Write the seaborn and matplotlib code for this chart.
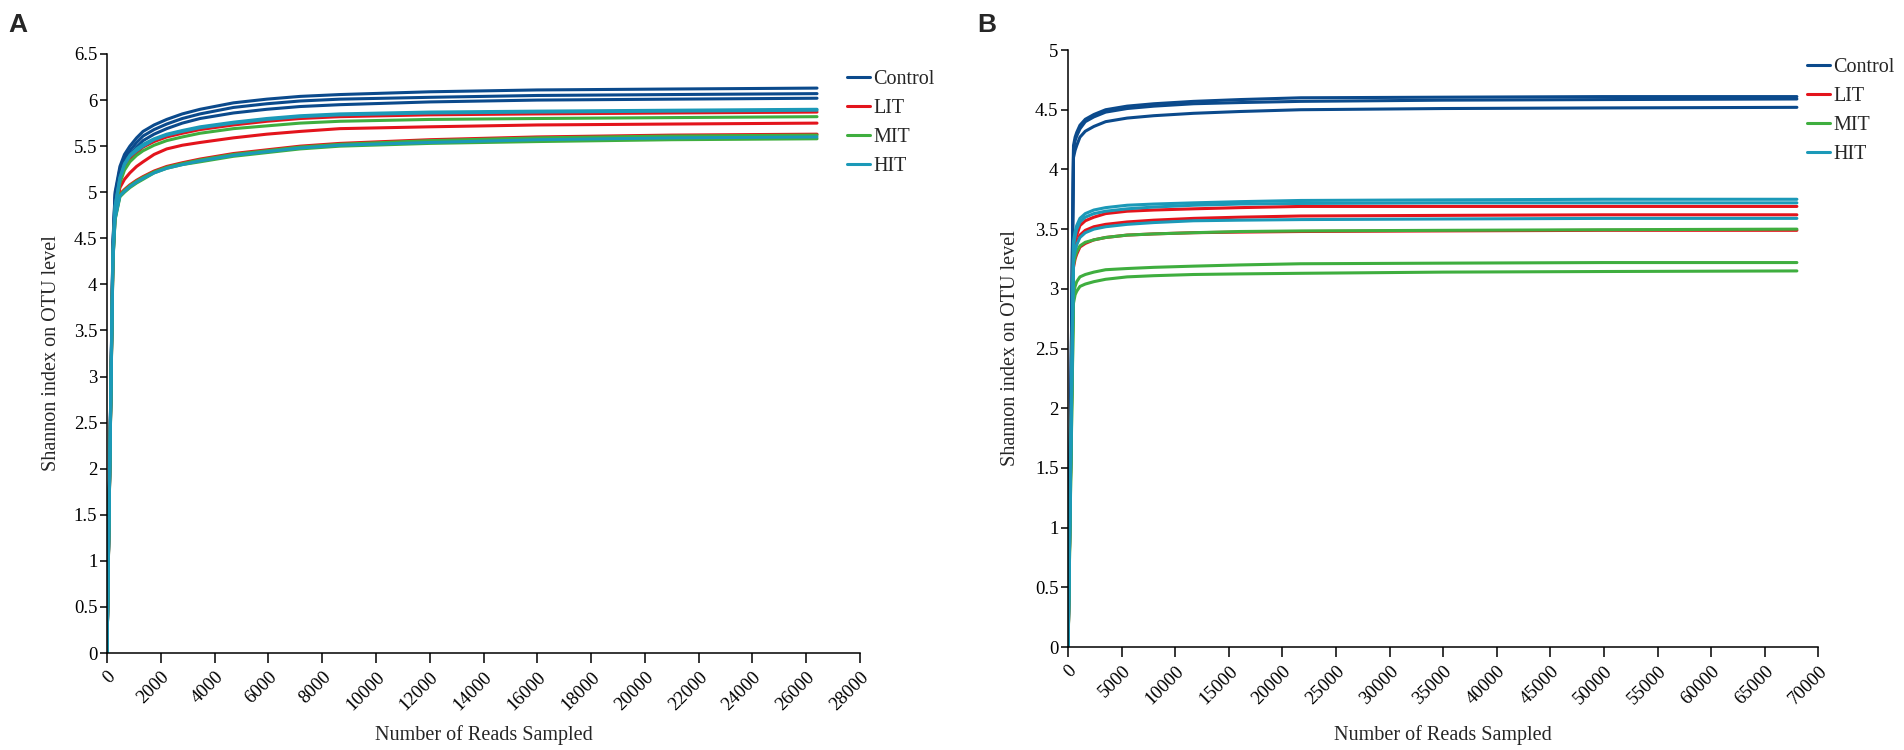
import matplotlib
matplotlib.use("Agg")
import matplotlib.pyplot as plt
import numpy as np
import pandas as pd
import seaborn as sns
from matplotlib.lines import Line2D
from matplotlib.ticker import FormatStrFormatter, MultipleLocator

# ---------------- data ----------------
groups = ["Control", "LIT", "MIT", "HIT"]
palette = {"Control": "#0b4a8c", "LIT": "#e3141c", "MIT": "#3fae3f", "HIT": "#1b99b8"}

# Panel A
reads_a = [0, 220, 300, 480, 650, 850, 1100, 1340, 1750, 2220, 2800, 3460, 4700, 5940, 7180, 8660, 12000, 16000, 21000, 26400]
a_control_1 = [0, 4.45, 5.00, 5.28, 5.41, 5.50, 5.59, 5.66, 5.73, 5.79, 5.85, 5.90, 5.97, 6.01, 6.04, 6.06, 6.09, 6.11, 6.12, 6.13]
a_control_2 = [0, 4.43, 4.97, 5.25, 5.37, 5.45, 5.54, 5.61, 5.68, 5.74, 5.80, 5.85, 5.92, 5.96, 5.99, 6.01, 6.03, 6.05, 6.06, 6.07]
a_control_3 = [0, 4.41, 4.93, 5.21, 5.32, 5.40, 5.49, 5.56, 5.63, 5.69, 5.75, 5.80, 5.86, 5.90, 5.93, 5.95, 5.98, 6.00, 6.01, 6.02]
a_lit_1 = [0, 4.35, 4.83, 5.14, 5.28, 5.36, 5.43, 5.49, 5.55, 5.60, 5.64, 5.68, 5.73, 5.77, 5.80, 5.82, 5.84, 5.85, 5.86, 5.87]
a_lit_2 = [0, 4.30, 4.77, 5.05, 5.14, 5.21, 5.28, 5.33, 5.41, 5.47, 5.51, 5.54, 5.59, 5.63, 5.66, 5.69, 5.71, 5.73, 5.74, 5.75]
a_lit_3 = [0, 4.27, 4.73, 4.98, 5.03, 5.08, 5.13, 5.17, 5.23, 5.28, 5.32, 5.36, 5.42, 5.46, 5.50, 5.53, 5.57, 5.60, 5.62, 5.63]
a_mit_1 = [0, 4.33, 4.80, 5.10, 5.24, 5.33, 5.40, 5.45, 5.51, 5.56, 5.60, 5.64, 5.69, 5.72, 5.75, 5.77, 5.79, 5.80, 5.81, 5.82]
a_mit_2 = [0, 4.26, 4.72, 4.97, 5.02, 5.07, 5.12, 5.16, 5.22, 5.27, 5.31, 5.35, 5.41, 5.45, 5.49, 5.52, 5.56, 5.59, 5.61, 5.62]
a_mit_3 = [0, 4.24, 4.70, 4.95, 5.00, 5.05, 5.10, 5.14, 5.21, 5.26, 5.30, 5.33, 5.39, 5.43, 5.47, 5.50, 5.53, 5.55, 5.57, 5.58]
a_hit_1 = [0, 4.37, 4.85, 5.16, 5.31, 5.40, 5.47, 5.52, 5.58, 5.63, 5.67, 5.71, 5.76, 5.80, 5.83, 5.85, 5.87, 5.88, 5.89, 5.90]
a_hit_2 = [0, 4.36, 4.84, 5.15, 5.30, 5.39, 5.45, 5.50, 5.57, 5.62, 5.66, 5.70, 5.75, 5.79, 5.82, 5.84, 5.86, 5.87, 5.88, 5.89]
a_hit_3 = [0, 4.25, 4.71, 4.96, 5.01, 5.06, 5.11, 5.15, 5.21, 5.26, 5.30, 5.34, 5.40, 5.44, 5.48, 5.51, 5.54, 5.57, 5.59, 5.60]

# Panel B
reads_b = [0, 500, 650, 800, 1100, 1600, 2400, 3500, 5500, 8000, 11700, 16000, 21700, 35000, 50000, 68000]
b_control_1 = [0, 4.20, 4.27, 4.31, 4.37, 4.42, 4.46, 4.50, 4.53, 4.55, 4.57, 4.585, 4.60, 4.605, 4.61, 4.61]
b_control_2 = [0, 4.17, 4.24, 4.28, 4.34, 4.40, 4.44, 4.48, 4.51, 4.53, 4.55, 4.56, 4.57, 4.58, 4.585, 4.59]
b_control_3 = [0, 4.10, 4.16, 4.20, 4.27, 4.32, 4.36, 4.40, 4.43, 4.45, 4.47, 4.485, 4.50, 4.51, 4.515, 4.52]
b_lit_1 = [0, 3.32, 3.40, 3.45, 3.53, 3.57, 3.60, 3.63, 3.65, 3.66, 3.67, 3.68, 3.69, 3.69, 3.69, 3.69]
b_lit_2 = [0, 3.25, 3.33, 3.38, 3.45, 3.49, 3.52, 3.54, 3.56, 3.575, 3.59, 3.60, 3.61, 3.615, 3.62, 3.62]
b_lit_3 = [0, 3.18, 3.25, 3.29, 3.35, 3.38, 3.41, 3.43, 3.45, 3.46, 3.47, 3.475, 3.48, 3.485, 3.49, 3.49]
b_mit_1 = [0, 3.20, 3.27, 3.31, 3.36, 3.39, 3.41, 3.43, 3.45, 3.46, 3.47, 3.48, 3.485, 3.49, 3.495, 3.50]
b_mit_2 = [0, 2.95, 3.02, 3.06, 3.10, 3.12, 3.14, 3.16, 3.17, 3.18, 3.19, 3.20, 3.21, 3.215, 3.22, 3.22]
b_mit_3 = [0, 2.88, 2.95, 2.98, 3.02, 3.04, 3.06, 3.08, 3.10, 3.11, 3.12, 3.125, 3.13, 3.14, 3.145, 3.15]
b_hit_1 = [0, 3.40, 3.48, 3.53, 3.59, 3.63, 3.66, 3.68, 3.70, 3.71, 3.72, 3.73, 3.74, 3.745, 3.75, 3.75]
b_hit_2 = [0, 3.36, 3.44, 3.50, 3.56, 3.60, 3.63, 3.65, 3.67, 3.685, 3.70, 3.71, 3.715, 3.72, 3.72, 3.72]
b_hit_3 = [0, 3.25, 3.32, 3.37, 3.43, 3.47, 3.50, 3.52, 3.54, 3.555, 3.57, 3.575, 3.58, 3.585, 3.59, 3.59]

x_label = "Number of Reads Sampled"
y_label = "Shannon index on OTU level"


def long_frame(reads, samples):
    rows = []
    for grp, name, vals in samples:
        for r, v in zip(reads, vals):
            rows.append({"reads": r, "shannon": v, "group": grp, "sample": name})
    return pd.DataFrame(rows)


df_a = long_frame(reads_a, [
    ("Control", "C1", a_control_1), ("Control", "C2", a_control_2), ("Control", "C3", a_control_3),
    ("LIT", "L1", a_lit_1), ("LIT", "L2", a_lit_2), ("LIT", "L3", a_lit_3),
    ("MIT", "M1", a_mit_1), ("MIT", "M2", a_mit_2), ("MIT", "M3", a_mit_3),
    ("HIT", "H1", a_hit_1), ("HIT", "H2", a_hit_2), ("HIT", "H3", a_hit_3),
])
df_b = long_frame(reads_b, [
    ("Control", "C1", b_control_1), ("Control", "C2", b_control_2), ("Control", "C3", b_control_3),
    ("LIT", "L1", b_lit_1), ("LIT", "L2", b_lit_2), ("LIT", "L3", b_lit_3),
    ("MIT", "M1", b_mit_1), ("MIT", "M2", b_mit_2), ("MIT", "M3", b_mit_3),
    ("HIT", "H1", b_hit_1), ("HIT", "H2", b_hit_2), ("HIT", "H3", b_hit_3),
])

# ---------------- style ----------------
sns.set_style("ticks")
plt.rcParams["font.family"] = ["Liberation Serif", "DejaVu Serif"]
plt.rcParams["axes.linewidth"] = 1.1
plt.rcParams["axes.edgecolor"] = "black"

fig = plt.figure(figsize=(19.04, 7.5), dpi=100)
ax_a = fig.add_axes([0.0562, 0.1293, 0.3955, 0.7987])
ax_b = fig.add_axes([0.5610, 0.1373, 0.3940, 0.7960])

LW = 2.2
TICK_FS = 13.5
LABEL_FS = 14.5


def style_axes(ax, df, xmax, xstep, ymax):
    sns.lineplot(data=df, x="reads", y="shannon", hue="group", units="sample",
                 estimator=None, hue_order=groups, palette=palette, lw=LW,
                 legend=False, ax=ax, sort=False)
    ax.set_xlim(0, xmax)
    ax.set_ylim(0, ymax)
    ax.xaxis.set_major_locator(MultipleLocator(xstep))
    ax.yaxis.set_major_locator(MultipleLocator(0.5))
    ax.yaxis.set_major_formatter(FormatStrFormatter("%g"))
    sns.despine(ax=ax)
    ax.tick_params(axis="x", direction="out", length=7, width=1.1, labelsize=TICK_FS, pad=4, colors="black")
    ax.tick_params(axis="y", direction="out", length=5, width=1.1, labelsize=TICK_FS, pad=2, colors="black")
    for lab in ax.get_xticklabels():
        lab.set_rotation(45)
        lab.set_ha("right")
        lab.set_rotation_mode("anchor")
    ax.set_xlabel(x_label, fontsize=LABEL_FS)
    ax.set_ylabel(y_label, fontsize=LABEL_FS)
    ax.xaxis.label.set_va("center")
    ax.yaxis.label.set_va("center")


style_axes(ax_a, df_a, 28000, 2000, 6.5)
style_axes(ax_b, df_b, 70000, 5000, 5)

ax_a.xaxis.set_label_coords(0.5, -0.137)
ax_a.yaxis.set_label_coords(-0.074, 0.5)
ax_b.xaxis.set_label_coords(0.5, -0.147)
ax_b.yaxis.set_label_coords(-0.077, 0.5)

handles = [Line2D([0], [0], color=palette[g], lw=LW) for g in groups]
leg_kw = dict(frameon=False, fontsize=LABEL_FS, handlelength=1.15, handletextpad=0.15,
              labelspacing=0.5, borderpad=0, borderaxespad=0, loc="upper left")
fig.legend(handles, groups, bbox_to_anchor=(0.4449, 0.907), **leg_kw)
fig.legend(handles, groups, bbox_to_anchor=(0.9490, 0.923), **leg_kw)

fig.text(0.0095, 0.966, "A", ha="center", va="center", fontsize=19, fontweight="bold",
         family=["Liberation Sans", "DejaVu Sans"])
fig.text(0.518, 0.966, "B", ha="center", va="center", fontsize=19, fontweight="bold",
         family=["Liberation Sans", "DejaVu Sans"])

fig.savefig("out.png", dpi=100)
